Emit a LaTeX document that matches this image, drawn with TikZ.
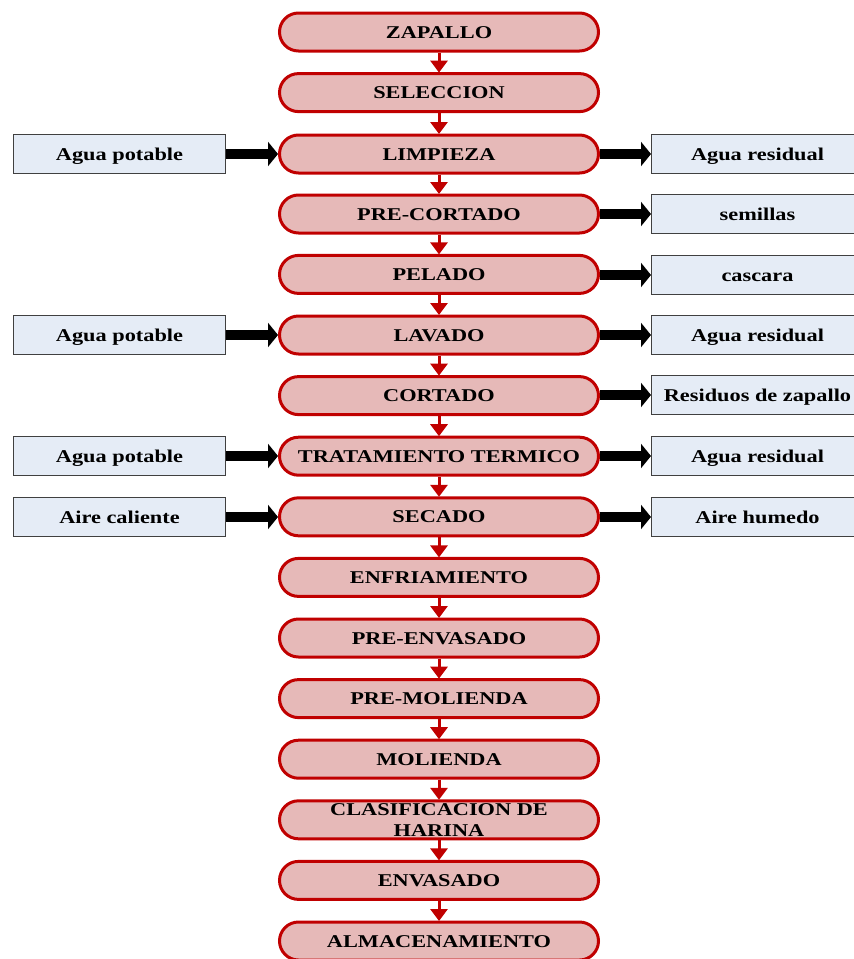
\documentclass[tikz,border=0pt]{standalone}
\usepackage{fontspec}
\setmainfont{Liberation Serif}[FakeStretch=1.24]
\usetikzlibrary{arrows.meta}
\definecolor{stepfill}{HTML}{E6B9B8}
\definecolor{stepdraw}{HTML}{C00000}
\definecolor{sidefill}{HTML}{E5ECF6}
\definecolor{sidedraw}{HTML}{404040}
\tikzset{
  stepbox/.style={draw=stepdraw, fill=stepfill, line width=3pt, rounded corners=19pt,
    minimum width=319pt, minimum height=38pt, inner sep=0pt, align=center,
    text height=12pt, text depth=0pt,
    font=\fontsize{18}{20}\selectfont\bfseries},
  sidebox/.style={draw=sidedraw, fill=sidefill, line width=1pt,
    minimum width=212pt, minimum height=39pt, inner sep=0pt, align=center,
    text height=12pt, text depth=0pt,
    font=\fontsize{18}{20}\selectfont\bfseries},
  redarrow/.style={draw=stepdraw, line width=3pt, -{Triangle[length=12pt,width=17pt]}, shorten >=-0.5pt},
  blkarrow/.style={draw=black, line width=10pt, -{Triangle[length=10pt,width=24pt]}},
}
\begin{document}
\begin{tikzpicture}[x=1pt,y=-1pt]
\useasboundingbox (0,0) rectangle (854,959);
\node[stepbox] (s1) at (439,32) {ZAPALLO};
\node[stepbox] (s2) at (439,92.6) {SELECCION};
\node[stepbox] (s3) at (439,154) {LIMPIEZA};
\node[stepbox] (s4) at (439,214) {PRE-CORTADO};
\node[stepbox] (s5) at (439,274.4) {PELADO};
\node[stepbox] (s6) at (439,335) {LAVADO};
\node[stepbox] (s7) at (439,395.6) {CORTADO};
\node[stepbox] (s8) at (439,456.2) {TRATAMIENTO TERMICO};
\node[stepbox] (s9) at (439,516.8) {SECADO};
\node[stepbox] (s10) at (439,577.4) {ENFRIAMIENTO};
\node[stepbox] (s11) at (439,638) {PRE-ENVASADO};
\node[stepbox] (s12) at (439,698.6) {PRE-MOLIENDA};
\node[stepbox] (s13) at (439,759.2) {MOLIENDA};
\node[stepbox, text height={}, text depth={}, font=\fontsize{18}{21}\selectfont\bfseries] (s14) at (439,819.8) {CLASIFICACION DE\\HARINA};
\node[stepbox] (s15) at (439,880.4) {ENVASADO};
\node[stepbox] (s16) at (439,941) {ALMACENAMIENTO};
\foreach \i [evaluate=\i as \j using int(\i+1)] in {1,...,15}
  \draw[redarrow] (s\i.south) -- (s\j.north);
% left inputs
\node[sidebox] (l3) at (119.5,154) {Agua potable};
\node[sidebox] (l6) at (119.5,335) {Agua potable};
\node[sidebox] (l8) at (119.5,456) {Agua potable};
\node[sidebox] (l9) at (119.5,517) {Aire caliente};
% right outputs
\node[sidebox] (r3) at (757.5,154) {Agua residual};
\node[sidebox] (r4) at (757.5,214) {semillas};
\node[sidebox] (r5) at (757.5,275) {cascara};
\node[sidebox] (r6) at (757.5,335) {Agua residual};
\node[sidebox] (r7) at (757.5,395) {Residuos de zapallo};
\node[sidebox] (r8) at (757.5,456) {Agua residual};
\node[sidebox] (r9) at (757.5,517) {Aire humedo};
\foreach \i in {3,6,8,9}
  \draw[blkarrow] (l\i.east) -- (l\i.east -| s\i.west);
\foreach \i in {3,4,5,6,7,8,9}
  \draw[blkarrow] (s\i.east |- r\i.west) -- (r\i.west);
\end{tikzpicture}
\end{document}
